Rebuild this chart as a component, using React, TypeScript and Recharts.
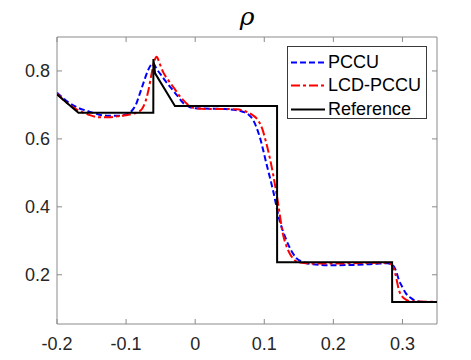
import React from 'react';
import { LineChart, Line, XAxis, YAxis, ReferenceArea } from 'recharts';

// reference solution (piecewise)
const refX = [-0.2, -0.169, -0.0606, -0.0605, -0.058, -0.0293, 0.1185, 0.1186, 0.285, 0.2851, 0.35];
const refY = [0.731, 0.677, 0.677, 0.835, 0.793, 0.697, 0.697, 0.237, 0.237, 0.12, 0.12];

// PCCU
const pccuX = [-0.2, -0.185, -0.17, -0.154, -0.14, -0.125, -0.11, -0.1, -0.092, -0.086, -0.08, -0.074, -0.068, -0.064, -0.0606, -0.057, -0.05, -0.044, -0.035, -0.025, -0.017, -0.008, 0.0, 0.02, 0.04, 0.055, 0.069, 0.077, 0.084, 0.0934, 0.103, 0.1126, 0.1222, 0.132, 0.14, 0.146, 0.155, 0.17, 0.2, 0.23, 0.26, 0.278, 0.286, 0.29, 0.295, 0.3, 0.305, 0.312, 0.3195, 0.33, 0.35];
const pccuY = [0.736, 0.71, 0.692, 0.681, 0.672, 0.668, 0.668, 0.672, 0.682, 0.7, 0.734, 0.77, 0.803, 0.818, 0.823, 0.81, 0.79, 0.773, 0.75, 0.725, 0.705, 0.694, 0.69, 0.689, 0.688, 0.686, 0.68, 0.672, 0.655, 0.606, 0.528, 0.449, 0.36, 0.302, 0.268, 0.25, 0.238, 0.231, 0.228, 0.229, 0.232, 0.234, 0.228, 0.215, 0.184, 0.163, 0.145, 0.132, 0.123, 0.12, 0.12];

// LCD-PCCU
const lcdX = [-0.2, -0.185, -0.17, -0.155, -0.14, -0.125, -0.11, -0.095, -0.082, -0.077, -0.072, -0.068, -0.063, -0.059, -0.0557, -0.052, -0.046, -0.039, -0.03, -0.022, -0.0173, -0.01, 0.0, 0.02, 0.04, 0.06, 0.074, 0.083, 0.091, 0.097, 0.103, 0.1126, 0.12, 0.127, 0.132, 0.137, 0.143, 0.15, 0.17, 0.2, 0.23, 0.26, 0.28, 0.286, 0.29, 0.295, 0.3, 0.305, 0.31, 0.35];
const lcdY = [0.733, 0.705, 0.685, 0.672, 0.664, 0.664, 0.667, 0.672, 0.68, 0.688, 0.71, 0.74, 0.793, 0.83, 0.842, 0.825, 0.795, 0.773, 0.748, 0.725, 0.714, 0.7, 0.69, 0.688, 0.688, 0.687, 0.68, 0.67, 0.655, 0.63, 0.587, 0.498, 0.41, 0.32, 0.285, 0.262, 0.245, 0.236, 0.233, 0.233, 0.234, 0.235, 0.235, 0.225, 0.2, 0.154, 0.135, 0.127, 0.122, 0.12];

const xTicks = [-0.2, -0.1, 0, 0.1, 0.2, 0.3];
const yTicks = [0.2, 0.4, 0.6, 0.8];

const zip = (xs: number[], ys: number[]) => xs.map((x, i) => ({ x, y: ys[i] }));
const refData = zip(refX, refY);
const pccuData = zip(pccuX, pccuY);
const lcdData = zip(lcdX, lcdY);

const W = 471;
const H = 360;
const TOP = 37;
const BOTTOM = 324;
const LEFT = 57;
const RIGHT = 437;
const AXIS = '#8a8a8a';
const TEXT = '#262626';
const FONT = '"Liberation Sans", Arial, sans-serif';

const XTick = (props: any) => {
  const { x, payload } = props;
  return (
    <g>
      <line x1={x} y1={BOTTOM} x2={x} y2={BOTTOM - 5} stroke={AXIS} />
      <line x1={x} y1={TOP} x2={x} y2={TOP + 5} stroke={AXIS} />
      <text x={x} y={350} textAnchor="middle" fontSize={18} fill={TEXT} fontFamily={FONT}>
        {String(payload.value)}
      </text>
    </g>
  );
};

const YTick = (props: any) => {
  const { y, payload } = props;
  return (
    <g>
      <line x1={LEFT} y1={y} x2={LEFT + 5} y2={y} stroke={AXIS} />
      <line x1={RIGHT} y1={y} x2={RIGHT - 5} y2={y} stroke={AXIS} />
      <text x={50} y={y} dy="0.35em" textAnchor="end" fontSize={18} fill={TEXT} fontFamily={FONT}>
        {String(payload.value)}
      </text>
    </g>
  );
};

const legendItems = [
  { name: 'PCCU', color: '#0000ff', dash: '6 3' },
  { name: 'LCD-PCCU', color: '#ff0000', dash: '9 3 3 3' },
  { name: 'Reference', color: '#000000', dash: undefined },
];

export default function App() {
  return (
    <div style={{ position: 'absolute', left: 0, top: 0, width: W, height: H, background: '#fff' }}>
      <LineChart width={W} height={H} margin={{ top: TOP, right: W - RIGHT, bottom: 0, left: 0 }}>
        <XAxis
          dataKey="x"
          type="number"
          domain={[-0.2, 0.35]}
          ticks={xTicks}
          allowDataOverflow
          height={H - BOTTOM}
          axisLine={false}
          tickLine={false}
          tickSize={0}
          tick={<XTick />}
          interval={0}
        />
        <YAxis
          type="number"
          domain={[0.055, 0.9]}
          ticks={yTicks}
          allowDataOverflow
          width={LEFT}
          axisLine={false}
          tickLine={false}
          tickSize={0}
          tick={<YTick />}
          interval={0}
        />
        <ReferenceArea x1={-0.2} x2={0.35} y1={0.055} y2={0.9} fill="#fff" fillOpacity={0} stroke={AXIS} strokeWidth={1} />
        <Line data={pccuData} dataKey="y" type="monotone" stroke="#0000ff" strokeWidth={2} strokeDasharray="6 3" dot={false} activeDot={false} isAnimationActive={false} />
        <Line data={lcdData} dataKey="y" type="monotone" stroke="#ff0000" strokeWidth={2} strokeDasharray="9 3 3 3" dot={false} activeDot={false} isAnimationActive={false} />
        <Line data={refData} dataKey="y" type="linear" stroke="#000000" strokeWidth={2} dot={false} activeDot={false} isAnimationActive={false} />
      </LineChart>
      <div
        style={{
          position: 'absolute',
          left: LEFT,
          width: RIGHT - LEFT,
          top: 3,
          textAlign: 'center',
          fontFamily: '"DejaVu Serif", serif',
          fontStyle: 'italic',
          fontSize: 25,
          color: '#000',
          lineHeight: '28px',
        }}
      >
        ρ
      </div>
      <div
        style={{
          position: 'absolute',
          left: 287,
          top: 46,
          width: 140,
          height: 73,
          border: '1px solid #3a3a3a',
          background: '#fff',
          fontFamily: FONT,
          fontSize: 18,
          color: '#000',
          boxSizing: 'border-box',
        }}
      >
        {legendItems.map((it, i) => (
          <div key={it.name} style={{ position: 'absolute', left: 0, top: 4 + i * 23.3, height: 23, display: 'flex', alignItems: 'center' }}>
            <svg width={40} height={23} style={{ display: 'block' }}>
              <line x1={3} y1={11.5} x2={37} y2={11.5} stroke={it.color} strokeWidth={2} strokeDasharray={it.dash} />
            </svg>
            <span style={{ marginLeft: 0, whiteSpace: 'nowrap', lineHeight: '23px' }}>{it.name}</span>
          </div>
        ))}
      </div>
    </div>
  );
}
